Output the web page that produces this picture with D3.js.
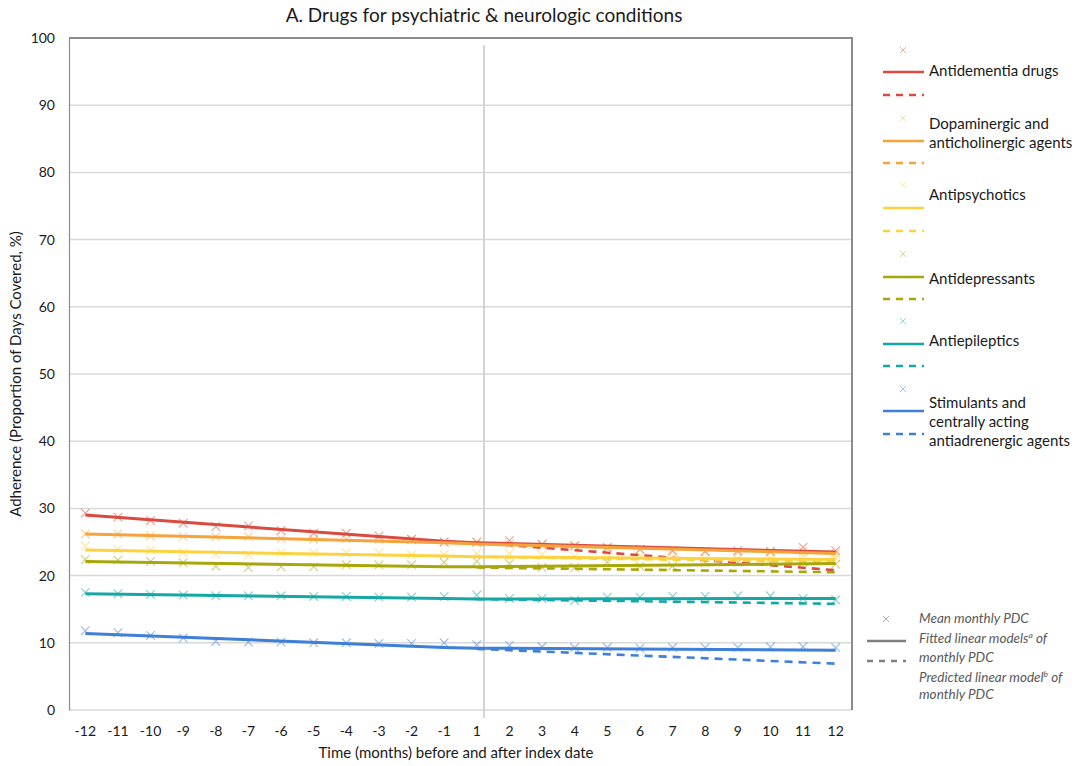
<!DOCTYPE html>
<html>
<head>
<meta charset="utf-8">
<script src="https://cdn.jsdelivr.net/npm/d3@7"></script>
<style>
  html, body { margin: 0; padding: 0; background: #fff; }
  svg { display: block; font-family: Lato, "Liberation Sans", Arial, sans-serif; }
</style>
</head>
<body>
<svg id="chart" width="1079" height="766"></svg>
<script>
// Months relative to the index date (no month 0)
const months = [-12, -11, -10, -9, -8, -7, -6, -5, -4, -3, -2, -1, 1, 2, 3, 4, 5, 6, 7, 8, 9, 10, 11, 12];
const yTicks = [0, 10, 20, 30, 40, 50, 60, 70, 80, 90, 100];

const categories = [
  "Antidementia drugs",
  "Dopaminergic and anticholinergic agents",
  "Antipsychotics",
  "Antidepressants",
  "Antiepileptics",
  "Stimulants and centrally acting antiadrenergic agents"
];

// Mean monthly PDC (%), one value per month
const antidementiaMean    = [29.3, 28.7, 28.2, 27.8, 27.3, 27.4, 26.7, 26.3, 26.3, 25.9, 25.4, 25.0, 25.0, 25.2, 24.7, 24.5, 24.2, 23.9, 23.7, 23.6, 23.7, 23.6, 24.2, 23.7];
const dopaminergicMean    = [26.2, 26.2, 25.9, 25.8, 25.8, 25.8, 25.5, 25.4, 25.5, 25.4, 25.4, 25.0, 24.9, 24.7, 24.5, 24.3, 24.0, 23.9, 23.7, 23.6, 23.5, 23.5, 23.6, 23.3];
const antipsychoticsMean  = [24.4, 23.9, 23.8, 23.4, 23.2, 23.1, 23.4, 23.4, 23.4, 23.4, 23.1, 23.1, 23.3, 23.3, 23.1, 22.9, 22.7, 22.9, 22.7, 22.5, 22.5, 22.5, 23.0, 22.7];
const antidepressantsMean = [22.4, 22.3, 22.1, 21.9, 21.4, 21.2, 21.3, 21.3, 21.6, 21.6, 21.6, 22.0, 22.1, 21.8, 21.2, 21.2, 22.0, 21.4, 21.4, 22.0, 22.0, 22.0, 22.0, 21.7];
const antiepilepticsMean  = [17.5, 17.3, 17.2, 17.1, 17.0, 17.0, 17.0, 16.9, 16.9, 16.8, 16.8, 16.9, 17.1, 16.6, 16.6, 16.3, 16.8, 16.8, 16.9, 16.9, 17.0, 17.0, 16.6, 16.4];
const stimulantsMean      = [11.8, 11.5, 11.1, 10.7, 10.2, 10.1, 10.1, 10.0, 10.0, 9.9, 9.9, 10.0, 9.7, 9.6, 9.4, 9.3, 9.3, 9.2, 9.3, 9.3, 9.3, 9.4, 9.4, 9.3];

// Fitted segmented linear models: values at months -12, -1, 1, 12
const fitMonths = [-12, -1, 1, 12];
const antidementiaFit    = [29.0, 25.1, 24.9, 23.5];
const dopaminergicFit    = [26.2, 24.9, 24.7, 23.3];
const antipsychoticsFit  = [23.8, 22.9, 22.8, 22.4];
const antidepressantsFit = [22.1, 21.3, 21.3, 21.8];
const antiepilepticsFit  = [17.3, 16.6, 16.5, 16.6];
const stimulantsFit      = [11.4, 9.3, 9.2, 8.9];

// Predicted (pre-index trend continued): values at months 1 and 12
const predMonths = [1, 12];
const antidementiaPred    = [24.9, 20.8];
const dopaminergicPred    = [24.7, 23.4];
const antipsychoticsPred  = [22.8, 22.0];
const antidepressantsPred = [21.2, 20.5];
const antiepilepticsPred  = [16.5, 15.8];
const stimulantsPred      = [9.1, 6.9];

const colors = ["#DA4A3E", "#F6A33C", "#FDD23F", "#A8A70A", "#14A8A5", "#3E7FD9"];

const series = [
  { name: categories[0], lines: ["Antidementia drugs"], mean: antidementiaMean, fit: antidementiaFit, pred: antidementiaPred },
  { name: categories[1], lines: ["Dopaminergic and", "anticholinergic agents"], mean: dopaminergicMean, fit: dopaminergicFit, pred: dopaminergicPred },
  { name: categories[2], lines: ["Antipsychotics"], mean: antipsychoticsMean, fit: antipsychoticsFit, pred: antipsychoticsPred },
  { name: categories[3], lines: ["Antidepressants"], mean: antidepressantsMean, fit: antidepressantsFit, pred: antidepressantsPred },
  { name: categories[4], lines: ["Antiepileptics"], mean: antiepilepticsMean, fit: antiepilepticsFit, pred: antiepilepticsPred },
  { name: categories[5], lines: ["Stimulants and", "centrally acting", "antiadrenergic agents"], mean: stimulantsMean, fit: stimulantsFit, pred: stimulantsPred }
].map((s, i) => ({ ...s, color: colors[i] }));

// Layout
const svg = d3.select("#chart");
const plot = { left: 69, top: 38, right: 852, bottom: 710 };
const textColor = "#1a1a1a";

const x = d3.scaleBand().domain(months).range([plot.left, plot.right]).padding(0);
const xc = m => x(m) + x.bandwidth() / 2;
const y = d3.scaleLinear().domain([0, 100]).range([plot.bottom, plot.top]);

// Index date reference line sits just after month 1
const indexLineX = xc(1) + x.bandwidth() * 0.22;

// Title
svg.append("text")
  .attr("x", 484).attr("y", 22)
  .attr("text-anchor", "middle")
  .attr("font-size", 19).attr("fill", textColor)
  .text("A. Drugs for psychiatric & neurologic conditions");

// Horizontal gridlines
svg.append("g").selectAll("line")
  .data(yTicks.filter(t => t > 0 && t < 100))
  .join("line")
  .attr("x1", plot.left).attr("x2", plot.right)
  .attr("y1", d => y(d)).attr("y2", d => y(d))
  .attr("stroke", "#D9D9D9").attr("stroke-width", 1.5);

// Bottom baseline
svg.append("line")
  .attr("x1", plot.left).attr("x2", plot.right)
  .attr("y1", y(0)).attr("y2", y(0))
  .attr("stroke", "#D9D9D9").attr("stroke-width", 1.5);

// Index date line
svg.append("line")
  .attr("x1", indexLineX).attr("x2", indexLineX)
  .attr("y1", plot.top + 7).attr("y2", plot.bottom + 8)
  .attr("stroke", "#D4D4D4").attr("stroke-width", 2);

// Plot frame (top and right)
svg.append("path")
  .attr("d", `M${plot.left},${plot.top}H${plot.right}V${plot.bottom}`)
  .attr("fill", "none").attr("stroke", "#8C8C8C").attr("stroke-width", 2);

// Y axis
const yAxis = d3.axisLeft(y).tickValues(yTicks).tickSize(0).tickPadding(14);
const gy = svg.append("g").attr("transform", `translate(${plot.left},0)`).call(yAxis);
gy.select(".domain").attr("stroke", "#8C8C8C").attr("stroke-width", 1.2);
gy.selectAll("text").attr("font-size", 14).attr("fill", textColor)
  .attr("font-family", "Lato, Liberation Sans, Arial, sans-serif");

// X axis
const xAxis = d3.axisBottom(x).tickSize(0).tickPadding(16);
const gx = svg.append("g").attr("transform", `translate(0,${plot.bottom})`).call(xAxis);
gx.select(".domain").remove();
gx.selectAll("text").attr("font-size", 14).attr("fill", textColor)
  .attr("font-family", "Lato, Liberation Sans, Arial, sans-serif");

// Axis titles
svg.append("text")
  .attr("x", 456).attr("y", 758)
  .attr("text-anchor", "middle").attr("font-size", 15).attr("fill", textColor)
  .text("Time (months) before and after index date");

svg.append("text")
  .attr("transform", `translate(21,${(plot.top + plot.bottom) / 2}) rotate(-90)`)
  .attr("text-anchor", "middle").attr("font-size", 15).attr("fill", textColor)
  .text("Adherence (Proportion of Days Covered, %)");

// Marker shape
const xMark = (s) => `M${-s},${-s}L${s},${s}M${-s},${s}L${s},${-s}`;

const line = d3.line().x(d => xc(d[0])).y(d => y(d[1]));

const gSeries = svg.append("g");

// Mean monthly markers
series.forEach(s => {
  gSeries.append("g").selectAll("path")
    .data(months.map((m, i) => [m, s.mean[i]]))
    .join("path")
    .attr("transform", d => `translate(${xc(d[0])},${y(d[1])})`)
    .attr("d", xMark(4.3))
    .attr("fill", "none").attr("stroke", s.color)
    .attr("stroke-width", 1.2).attr("stroke-opacity", 0.5);
});

// Predicted (dashed) lines
series.forEach(s => {
  gSeries.append("path")
    .datum(predMonths.map((m, i) => [m, s.pred[i]]))
    .attr("d", line)
    .attr("fill", "none").attr("stroke", s.color)
    .attr("stroke-width", 2.6).attr("stroke-dasharray", "8,6");
});

// Fitted (solid) lines
series.forEach(s => {
  gSeries.append("path")
    .datum(fitMonths.map((m, i) => [m, s.fit[i]]))
    .attr("d", line)
    .attr("fill", "none").attr("stroke", s.color)
    .attr("stroke-width", 3).attr("stroke-linejoin", "round");
});

// Series legend
const legendRows = [
  { marker: 50, solid: 72, dashed: 95, text: [71] },
  { marker: 118, solid: 141, dashed: 163, text: [124, 143] },
  { marker: 185, solid: 208, dashed: 231, text: [195] },
  { marker: 254, solid: 277, dashed: 299, text: [279] },
  { marker: 321, solid: 344, dashed: 366, text: [341] },
  { marker: 389, solid: 411, dashed: 434, text: [403, 422, 441] }
];
const lg = svg.append("g");
series.forEach((s, i) => {
  const r = legendRows[i];
  lg.append("path").attr("transform", `translate(903,${r.marker})`)
    .attr("d", xMark(3)).attr("fill", "none")
    .attr("stroke", s.color).attr("stroke-opacity", 0.45).attr("stroke-width", 1);
  lg.append("line").attr("x1", 883).attr("x2", 924).attr("y1", r.solid).attr("y2", r.solid)
    .attr("stroke", s.color).attr("stroke-width", 2.6);
  lg.append("line").attr("x1", 883).attr("x2", 924).attr("y1", r.dashed).attr("y2", r.dashed)
    .attr("stroke", s.color).attr("stroke-width", 2.6).attr("stroke-dasharray", "7,6");
  s.lines.forEach((t, j) => {
    lg.append("text").attr("x", 929).attr("y", r.text[j]).attr("dy", "0.35em")
      .attr("font-size", 15).attr("fill", textColor).text(t);
  });
});

// Line-type legend
const kl = svg.append("g").attr("font-style", "italic").attr("font-size", 13.5).attr("fill", "#595959");
kl.append("path").attr("transform", "translate(886,619)").attr("d", xMark(3))
  .attr("fill", "none").attr("stroke", "#B0B0B0").attr("stroke-width", 1);
kl.append("text").attr("x", 919).attr("y", 618).attr("dy", "0.35em").text("Mean monthly PDC");
kl.append("line").attr("x1", 867).attr("x2", 906).attr("y1", 641).attr("y2", 641)
  .attr("stroke", "#7F7F7F").attr("stroke-width", 2.4);
const t1 = kl.append("text").attr("x", 919).attr("y", 638).attr("dy", "0.35em");
t1.append("tspan").text("Fitted linear models");
t1.append("tspan").attr("font-size", 8.5).attr("dy", "-0.5em").text("a");
t1.append("tspan").attr("dy", "0.35em").text(" of");
kl.append("text").attr("x", 919).attr("y", 657).attr("dy", "0.35em").text("monthly PDC");
kl.append("line").attr("x1", 867).attr("x2", 906).attr("y1", 661).attr("y2", 661)
  .attr("stroke", "#7F7F7F").attr("stroke-width", 2.4).attr("stroke-dasharray", "6,6");
const t2 = kl.append("text").attr("x", 919).attr("y", 677).attr("dy", "0.35em");
t2.append("tspan").text("Predicted linear model");
t2.append("tspan").attr("font-size", 8.5).attr("dy", "-0.5em").text("b");
t2.append("tspan").attr("dy", "0.35em").text(" of");
kl.append("text").attr("x", 919).attr("y", 694).attr("dy", "0.35em").text("monthly PDC");
</script>
</body>
</html>
